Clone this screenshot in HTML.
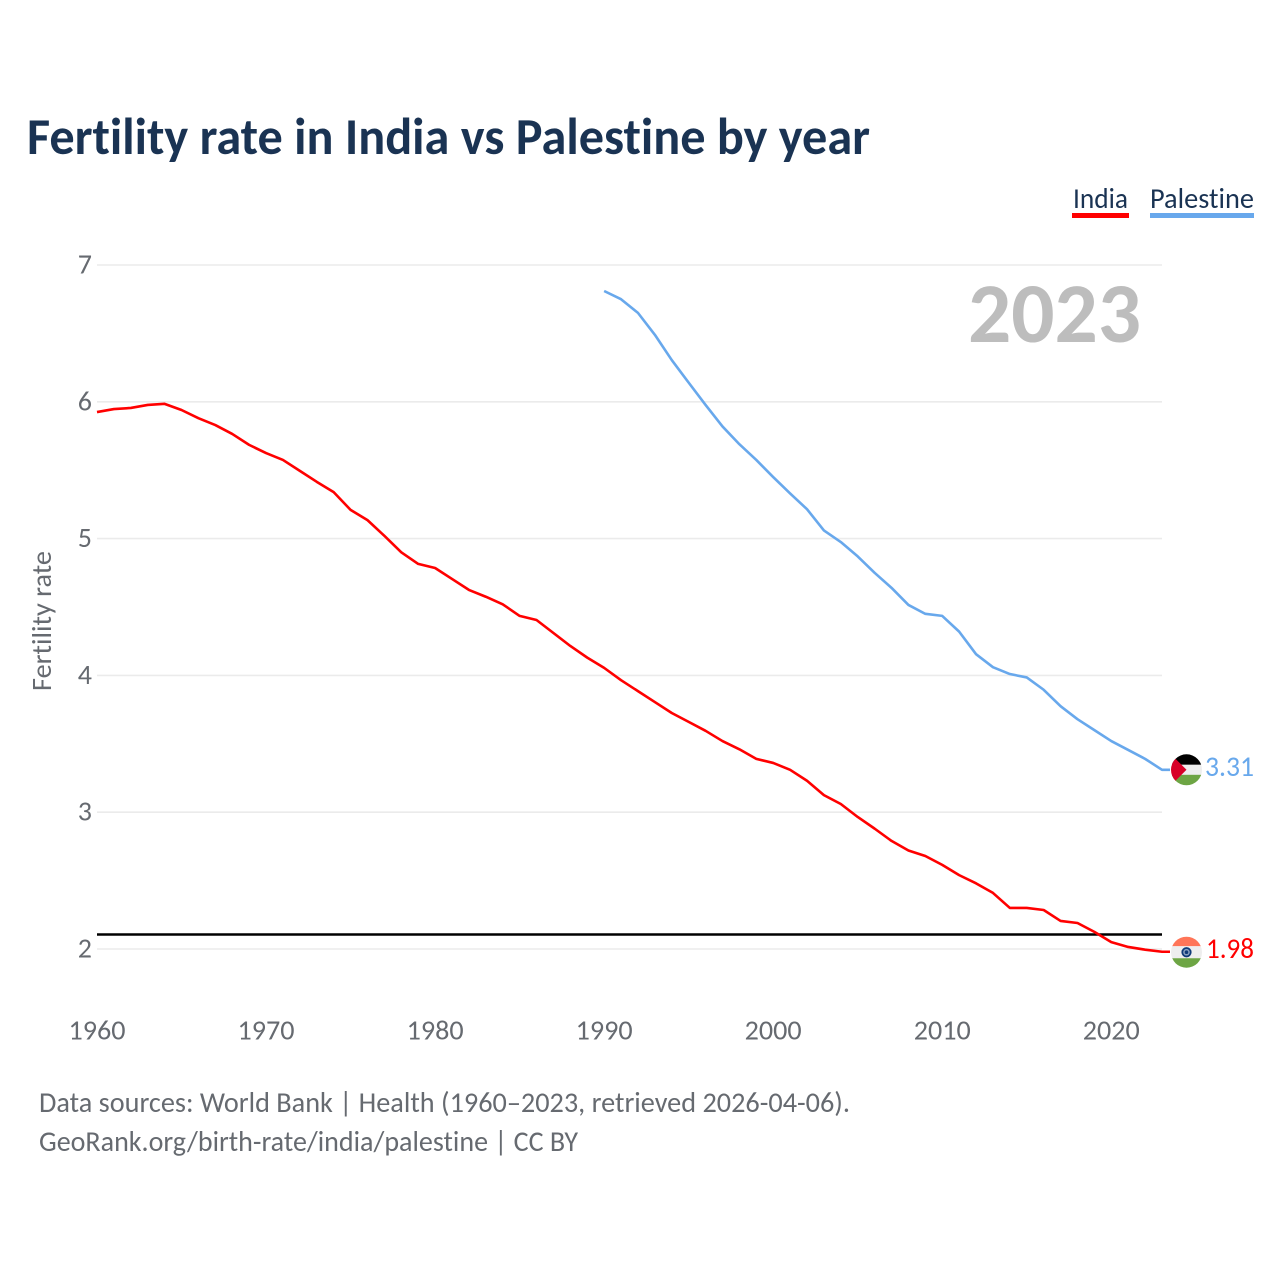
<!DOCTYPE html>
<html lang="en">
<head>
<meta charset="utf-8">
<title>Fertility rate in India vs Palestine by year</title>
<style>
html,body{margin:0;padding:0;background:#fff;width:1280px;height:1280px;overflow:hidden}
svg{display:block}
text{font-family:Carlito,Lato,"Liberation Sans",sans-serif;font-variant-ligatures:none;font-feature-settings:"liga" 0,"clig" 0}
</style>
</head>
<body>
<svg id="chart" xmlns="http://www.w3.org/2000/svg" width="1280" height="1280" viewBox="0 0 1280 1280">
  <rect width="1280" height="1280" fill="#fff"/>
  <text x="27" y="154" font-size="52" font-weight="700" fill="#1a3353" textLength="843" lengthAdjust="spacingAndGlyphs">Fertility rate in India vs Palestine by year</text>
  <g>
    <g>
      <text x="1073" y="208" font-size="29" fill="#1a3353" textLength="55" lengthAdjust="spacingAndGlyphs">India</text>
      <rect x="1072" y="213" width="57" height="5" fill="#ff0000"/>
    </g>
    <g>
      <text x="1150" y="208" font-size="29" fill="#1a3353" textLength="104" lengthAdjust="spacingAndGlyphs">Palestine</text>
      <rect x="1150" y="213" width="104" height="5" fill="#68a8ec"/>
    </g>
  </g>
  <text x="968" y="342" font-size="85" font-weight="700" fill="#bdbdbd" textLength="173" lengthAdjust="spacingAndGlyphs">2023</text>
  <text transform="translate(51,691) rotate(-90)" font-size="28" fill="#666a70" textLength="140" lengthAdjust="spacingAndGlyphs">Fertility rate</text>
  <g id="grid"></g>
  <g id="yticks"></g>
  <g id="xticks"></g>
  <line id="refline" stroke="#000" stroke-width="2.4"/>
  <g id="series"></g>
  <defs>
    <clipPath id="clip-ps"><circle id="clip-ps-c" r="15.5"/></clipPath>
    <clipPath id="clip-in"><circle id="clip-in-c" r="15.5"/></clipPath>
  </defs>
  <g id="flag-ps" clip-path="url(#clip-ps)"></g>
  <g id="flag-in" clip-path="url(#clip-in)"></g>
  <text x="39" y="1112" font-size="29" fill="#666a70" textLength="811" lengthAdjust="spacingAndGlyphs">Data sources: World Bank | Health (1960–2023, retrieved 2026-04-06).</text>
  <text x="39" y="1151" font-size="29" fill="#666a70" textLength="539" lengthAdjust="spacingAndGlyphs">GeoRank.org/birth-rate/india/palestine | CC BY</text>
</svg>
<script>
var yTickValues = [2, 3, 4, 5, 6, 7];
var xTickYears = [1960, 1970, 1980, 1990, 2000, 2010, 2020];
var referenceValue = 2.106;
var indiaStartYear = 1960;
var indiaValues = [5.925,5.947,5.955,5.977,5.985,5.94,5.88,5.83,5.765,5.685,5.625,5.575,5.495,5.415,5.34,5.21,5.135,5.02,4.90,4.815,4.785,4.705,4.625,4.575,4.52,4.435,4.405,4.31,4.215,4.13,4.055,3.965,3.885,3.805,3.725,3.66,3.595,3.52,3.46,3.39,3.36,3.31,3.23,3.125,3.06,2.965,2.88,2.79,2.72,2.68,2.615,2.54,2.48,2.41,2.30,2.30,2.285,2.205,2.19,2.125,2.05,2.015,1.995,1.98];
var palestineStartYear = 1990;
var palestineValues = [6.81,6.75,6.65,6.49,6.305,6.14,5.977,5.82,5.69,5.575,5.45,5.33,5.215,5.06,4.975,4.87,4.75,4.64,4.515,4.45,4.435,4.32,4.155,4.06,4.01,3.985,3.895,3.775,3.68,3.60,3.52,3.455,3.39,3.31];

var NS = 'http://www.w3.org/2000/svg';
var X0 = 97, X1 = 1162, Y2 = 949, Y7 = 265;
function xScale(year) { return X0 + (year - 1960) * (X1 - X0) / 63; }
function yScale(v) { return Y2 - (v - 2) * (Y2 - Y7) / 5; }
function make(tag, attrs, parent) {
  var el = document.createElementNS(NS, tag);
  for (var k in attrs) el.setAttribute(k, attrs[k]);
  parent.appendChild(el);
  return el;
}
var grid = document.getElementById('grid');
var yticks = document.getElementById('yticks');
var xticks = document.getElementById('xticks');
var series = document.getElementById('series');

yTickValues.forEach(function (v) {
  var line = make('line', {x1: X0, x2: X1, y1: yScale(v), y2: yScale(v), stroke: '#ebebeb', 'stroke-width': 1.6}, grid);
  
  
  var t = make('text', {x: 92, y: yScale(v) + 8.5, 'text-anchor': 'end', 'font-size': 28, fill: '#666a70'}, yticks);
  t.textContent = String(v);
  
  
});
xTickYears.forEach(function (y) {
  var t = make('text', {x: xScale(y), y: 1039.5, 'text-anchor': 'middle', 'font-size': 28, fill: '#666a70', textLength: 57, lengthAdjust: 'spacingAndGlyphs'}, xticks);
  t.textContent = String(y);
  
  
});
var ref = document.getElementById('refline');
ref.setAttribute('x1', X0);
ref.setAttribute('x2', X1);
ref.setAttribute('y1', yScale(referenceValue));
ref.setAttribute('y2', yScale(referenceValue));

function pathFor(values, startYear) {
  var d = values.map(function (v, i) {
    return (i ? 'L' : 'M') + xScale(startYear + i).toFixed(2) + ' ' + yScale(v).toFixed(2);
  }).join(' ');
  var last = values[values.length - 1];
  return d + ' L' + (X1 + 8) + ' ' + yScale(last).toFixed(2);
}
var indiaLine = make('path', {d: pathFor(indiaValues, indiaStartYear), fill: 'none', stroke: '#ff0000', 'stroke-width': 2.6, 'stroke-linejoin': 'round'}, series);


var palLine = make('path', {d: pathFor(palestineValues, palestineStartYear), fill: 'none', stroke: '#68a8ec', 'stroke-width': 2.6, 'stroke-linejoin': 'round'}, series);



var FX = 1186.5;
var svgRoot = document.getElementById('chart');

// Palestine flag and end label
var pv = palestineValues[palestineValues.length - 1];
var py = yScale(pv);
var pc = document.getElementById('clip-ps-c');
pc.setAttribute('cx', FX);
pc.setAttribute('cy', py);
var fp = document.getElementById('flag-ps');
make('rect', {x: FX - 16, y: py - 16, width: 32, height: 11, fill: '#000'}, fp);
make('rect', {x: FX - 16, y: py - 5, width: 32, height: 10, fill: '#eeeeee'}, fp);
make('rect', {x: FX - 16, y: py + 5, width: 32, height: 11, fill: '#6da544'}, fp);
make('polygon', {points: (FX - 16) + ',' + (py - 16) + ' ' + FX + ',' + py + ' ' + (FX - 16) + ',' + (py + 16), fill: '#d80027'}, fp);
var pl = make('text', {x: 1205, y: py + 6, 'font-size': 29, fill: '#68a8ec', textLength: 49, lengthAdjust: 'spacingAndGlyphs'}, svgRoot);
pl.textContent = pv.toFixed(2);



// India flag and end label
var iv = indiaValues[indiaValues.length - 1];
var iy = yScale(iv) + 0.5;
var ic = document.getElementById('clip-in-c');
ic.setAttribute('cx', FX);
ic.setAttribute('cy', iy);
var fi = document.getElementById('flag-in');
make('rect', {x: FX - 16, y: iy - 16, width: 32, height: 10, fill: '#ff7558'}, fi);
make('rect', {x: FX - 16, y: iy - 6, width: 32, height: 12, fill: '#eeeeee'}, fi);
make('rect', {x: FX - 16, y: iy + 6, width: 32, height: 10, fill: '#6da544'}, fi);
make('circle', {cx: FX, cy: iy, r: 4.2, fill: '#8aa0c0', stroke: '#0f3a78', 'stroke-width': 1.8}, fi);
make('circle', {cx: FX, cy: iy, r: 1.8, fill: '#0f3a78'}, fi);
var il = make('text', {x: 1206, y: iy + 6, 'font-size': 29, fill: '#ff0000', textLength: 48, lengthAdjust: 'spacingAndGlyphs'}, svgRoot);
il.textContent = iv.toFixed(2);


</script>
</body>
</html>
